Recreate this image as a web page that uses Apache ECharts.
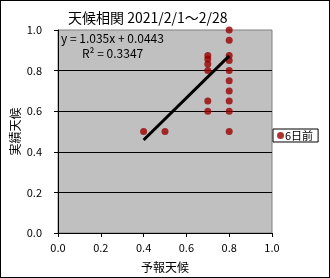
<!DOCTYPE html>
<html>
<head>
<meta charset="utf-8">
<script src="https://cdn.jsdelivr.net/npm/echarts@6/dist/echarts.min.js"></script>
<style>
html,body{margin:0;padding:0;background:#fff;}
#c{width:330px;height:278px;box-sizing:border-box;border:1px solid #000;}
</style>
</head>
<body>
<div id="c"></div>
<script>
// Data
const titleText = '天候相関 2021/2/1～2/28';
const seriesName = '6日前';
const forecastX = [0.4, 0.5, 0.7, 0.7, 0.7, 0.7, 0.7, 0.7, 0.8, 0.8, 0.8, 0.8, 0.8, 0.8, 0.8, 0.8, 0.8, 0.8];
const actualY   = [0.5, 0.5, 0.875, 0.857, 0.833, 0.8, 0.65, 0.6, 1.0, 0.95, 0.875, 0.85, 0.8, 0.75, 0.7, 0.65, 0.6, 0.5];
const trendSlope = 1.035;
const trendIntercept = 0.0443;
const rSquared = 0.3347;
const axisTicks = [0.0, 0.2, 0.4, 0.6, 0.8, 1.0];

const points = forecastX.map((x, i) => [x, actualY[i]]);
const xMin = Math.min(...forecastX), xMax = Math.max(...forecastX);
const trend = [[xMin, trendSlope * xMin + trendIntercept], [xMax, trendSlope * xMax + trendIntercept]];

const FONT = '"Noto Sans CJK JP", "Noto Sans", sans-serif';
const chart = echarts.init(document.getElementById('c'), null, {renderer: 'canvas'});
const fmt = v => v.toFixed(1);
chart.setOption({
  animation: false,
  textStyle: {fontFamily: FONT, color: '#000'},
  title: {
    text: titleText, left: 62, top: 5,
    textStyle: {fontSize: 14, fontWeight: 'normal', color: '#000', fontFamily: FONT}
  },
  grid: {
    left: 57, right: 57, top: 29, bottom: 44,
    outerBoundsMode: 'none', containLabel: false,
    show: true, backgroundColor: '#c0c0c0', borderColor: '#808080', borderWidth: 1
  },
  legend: {
    data: [seriesName], left: 272, top: 128, orient: 'vertical',
    backgroundColor: '#fff', borderColor: '#000', borderWidth: 1,
    padding: [1, 5, 1, 4], itemWidth: 7, itemHeight: 7, itemGap: 0,
    textStyle: {fontSize: 11, color: '#000', fontFamily: FONT, padding: [0, 0, 0, -4]}
  },
  xAxis: {
    type: 'value', min: axisTicks[0], max: axisTicks[axisTicks.length - 1], interval: 0.2,
    name: '予報天候', nameLocation: 'middle', nameGap: 28, nameMoveOverlap: false,
    nameTextStyle: {fontSize: 12, color: '#000', fontFamily: FONT},
    axisLine: {show: true, onZero: false, lineStyle: {color: '#000', width: 1}},
    axisTick: {show: true, length: 4, lineStyle: {color: '#000'}},
    axisLabel: {fontSize: 11, color: '#000', margin: 9, formatter: fmt, fontFamily: FONT},
    splitLine: {show: false}
  },
  yAxis: {
    type: 'value', min: axisTicks[0], max: axisTicks[axisTicks.length - 1], interval: 0.2,
    name: '実績天候', nameLocation: 'middle', nameGap: 37, nameMoveOverlap: false,
    nameTextStyle: {fontSize: 12, color: '#000', fontFamily: FONT},
    axisLine: {show: true, onZero: false, lineStyle: {color: '#000', width: 1}},
    axisTick: {show: true, length: 4, lineStyle: {color: '#000'}},
    axisLabel: {fontSize: 11, color: '#000', margin: 16, formatter: fmt, fontFamily: FONT},
    splitLine: {show: true, showMaxLine: false, lineStyle: {color: '#000', width: 1}}
  },
  graphic: [
    {type: 'text', left: 60, top: 31, style: {text: 'y = 1.035x + 0.0443', fontSize: 12, fill: '#000', fontFamily: FONT}, z: 100},
    {type: 'text', left: 81, top: 46, style: {text: 'R² = ' + rSquared.toFixed(4), fontSize: 12, fill: '#000', fontFamily: FONT}, z: 100}
  ],
  series: [
    {
      name: seriesName, type: 'scatter', data: points, symbol: 'circle', symbolSize: 7,
      itemStyle: {color: '#990000'}, z: 2
    },
    {
      name: 'trend', type: 'line', data: trend, symbol: 'none',
      lineStyle: {color: '#000', width: 3}, z: 3, silent: true
    }
  ]
});
</script>
</body>
</html>
